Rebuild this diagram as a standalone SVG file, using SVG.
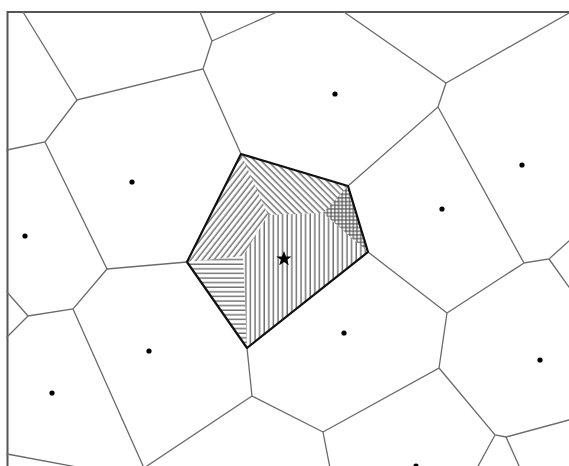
<svg xmlns="http://www.w3.org/2000/svg" width="569" height="466" viewBox="0 0 569 466">
<style>
.e{stroke:#6a6a6a;stroke-width:1.3;fill:none;stroke-linecap:round}
.d{fill:#000}
.pent{fill:none;stroke:#111;stroke-width:2.2;stroke-linejoin:round}
.h{stroke:#555;stroke-width:1.2}
</style>
<defs>
<pattern id="pv" patternUnits="userSpaceOnUse" width="4.6" height="10"><line class="h" x1="2" y1="0" x2="2" y2="10"/></pattern>
<pattern id="ph" patternUnits="userSpaceOnUse" width="10" height="4.6"><line class="h" x1="0" y1="2" x2="10" y2="2"/></pattern>
<pattern id="pf" patternUnits="userSpaceOnUse" width="4.6" height="10" patternTransform="rotate(38)"><line class="h" x1="2" y1="0" x2="2" y2="10"/></pattern>
<pattern id="pb" patternUnits="userSpaceOnUse" width="4.6" height="10" patternTransform="rotate(-45)"><line class="h" x1="2" y1="0" x2="2" y2="10"/></pattern>
<pattern id="pc" patternUnits="userSpaceOnUse" width="3.7" height="3.7"><line class="h" x1="1.8" y1="0" x2="1.8" y2="3.7" stroke-width="0.9"/><line class="h" x1="0" y1="1.8" x2="3.7" y2="1.8" stroke-width="0.9"/></pattern>
</defs>
<rect width="569" height="466" fill="#fff"/>
<g id="frame"><path d="M7.5 466 V12 H569" fill="none" stroke="#555" stroke-width="2"/></g>
<g id="connectors">
<path class="e" d="M23 12 L77 100 L203 69 L212 41 L200 12 M212 41 L277 12 M77 100 L45 142 L7 150 M45 142 L107 269 L187 262 M203 69 L241 154"/>
<path class="e" d="M344 12 L446 83 L569 13 M446 83 L438 107 L348 186 M438 107 L524 263 L549 259 L569 241 M549 259 L569 287 M524 263 L447 313 L368 252 M447 313 L439 368 L323 432 M439 368 L495 435 L506 437 L569 420 M506 437 L520 468 M495 435 L477 468 M323 432 L330 468 M323 432 L252 396 L247 348 M252 396 L144 468"/>
<path class="e" d="M107 269 L73 309 L28 316 L7 292 M28 316 L7 337 M73 309 L144 468 M7 454 L82 468"/>
</g>
<g id="cell-center">
<polygon points="241,154 268,215 243,256 187,262" fill="url(#pf)"/>
<polygon points="241,154 348,186 323,213 268,215" fill="url(#pb)"/>
<polygon points="348,186 368,252 323,213" fill="url(#pc)"/>
<polygon points="268,215 323,213 368,252 247,348 243,256" fill="url(#pv)"/>
<polygon points="187,262 243,256 247,348" fill="url(#ph)"/>
<polygon class="pent" points="241,154 348,186 368,252 247,348 187,262"/>
<path d="M284 251 L286 256.4 L291.6 256.4 L287.1 259.8 L288.8 265.2 L284 262 L279.2 265.2 L280.9 259.8 L276.4 256.4 L282 256.4 Z" fill="#000"/>
</g>
<g id="sites">
<circle class="d" cx="335" cy="94" r="2.6"/>
<circle class="d" cx="522" cy="165" r="2.6"/>
<circle class="d" cx="442" cy="209" r="2.6"/>
<circle class="d" cx="132" cy="182" r="2.6"/>
<circle class="d" cx="25" cy="236" r="2.6"/>
<circle class="d" cx="149" cy="351" r="2.6"/>
<circle class="d" cx="52" cy="393" r="2.6"/>
<circle class="d" cx="344" cy="333" r="2.6"/>
<circle class="d" cx="540" cy="360" r="2.6"/>
<circle class="d" cx="416" cy="466" r="2.6"/>
</g>
</svg>
